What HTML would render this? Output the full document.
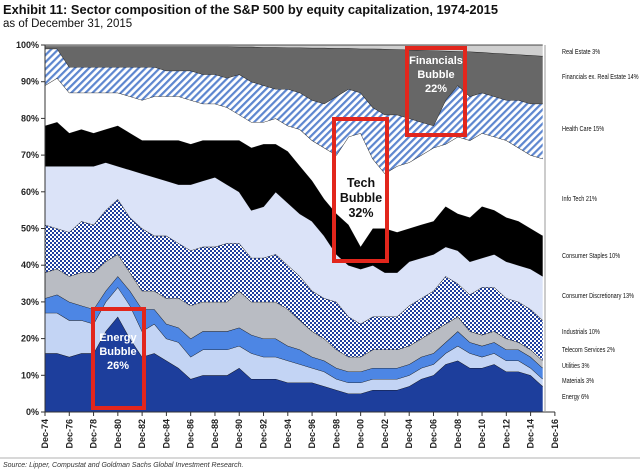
<!DOCTYPE html>
<html><head><meta charset="utf-8"><style>
html,body{margin:0;padding:0;background:#fff;}
svg{display:block;font-family:"Liberation Sans",sans-serif;}
</style></head><body>
<svg id="chart" width="640" height="470" viewBox="0 0 640 470" xmlns="http://www.w3.org/2000/svg">
<defs>
<pattern id="hatch" patternUnits="userSpaceOnUse" width="5" height="5" patternTransform="rotate(45)">
<rect width="5" height="5" fill="#fff"/><rect width="2.2" height="5" fill="#5d86cf"/>
</pattern>
<pattern id="checker" patternUnits="userSpaceOnUse" width="4" height="4">
<rect width="4" height="4" fill="#fff"/><rect width="2" height="2" fill="#1f3f9e"/><rect x="2" y="2" width="2" height="2" fill="#1f3f9e"/>
</pattern>
</defs>
<text x="3" y="14" font-size="13" font-weight="bold" fill="#111" textLength="495" lengthAdjust="spacingAndGlyphs">Exhibit 11: Sector composition of the S&amp;P 500 by equity capitalization, 1974-2015</text>
<text x="3" y="27" font-size="11.5" fill="#111">as of December 31, 2015</text>
<g id="areas"></g>
<g id="axes"></g>
<g id="legend"></g>
<g>
<rect x="93" y="309" width="51" height="99" fill="none" stroke="#e2261c" stroke-width="4"/>
<text x="118" y="341" font-size="11" font-weight="bold" fill="#fff" text-anchor="middle">Energy</text>
<text x="118" y="355" font-size="11" font-weight="bold" fill="#fff" text-anchor="middle">Bubble</text>
<text x="118" y="369" font-size="11" font-weight="bold" fill="#fff" text-anchor="middle">26%</text>
</g>
<g>
<rect x="334" y="119" width="53" height="142" fill="none" stroke="#e2261c" stroke-width="4"/>
<text x="361" y="187" font-size="12.5" font-weight="bold" fill="#111" text-anchor="middle">Tech</text>
<text x="361" y="202" font-size="12.5" font-weight="bold" fill="#111" text-anchor="middle">Bubble</text>
<text x="361" y="217" font-size="12.5" font-weight="bold" fill="#111" text-anchor="middle">32%</text>
</g>
<g>
<rect x="407" y="48" width="58" height="87" fill="none" stroke="#e2261c" stroke-width="4"/>
<text x="436" y="64" font-size="11" font-weight="bold" fill="#fff" text-anchor="middle">Financials</text>
<text x="436" y="78" font-size="11" font-weight="bold" fill="#fff" text-anchor="middle">Bubble</text>
<text x="436" y="92" font-size="11" font-weight="bold" fill="#fff" text-anchor="middle">22%</text>
</g>
<line x1="0" y1="458" x2="640" y2="458" stroke="#999" stroke-width="0.8"/>
<text x="3" y="467" font-size="7" font-style="italic" fill="#333">Source: Lipper, Compustat and Goldman Sachs Global Investment Research.</text>
</svg>
<script>
const years = [1974,1975,1976,1977,1978,1979,1980,1981,1982,1983,1984,1985,1986,1987,1988,1989,1990,1991,1992,1993,1994,1995,1996,1997,1998,1999,2000,2001,2002,2003,2004,2005,2006,2007,2008,2009,2010,2011,2012,2013,2014,2015];
// cumulative top of each sector band (%), stacked from the bottom
const energyTop = [16,16,15,16,16,22,26,20,15,16,14,12,9,10,10,10,12,9,9,9,8,8,8,7,6,5,5,6,6,6,7,9,10,13,14,12,12,13,11,11,10,7];
const materialsTop = [27,27,25,25,24,30,34,29,22,24,20,19,15,17,17,17,18,16,15,15,14,13,12,11,9,8,8,9,9,9,10,12,13,16,18,16,15,16,14,14,12,9];
const utilitiesTop = [31,32,30,29,28,33,37,33,28,28,24,23,20,22,22,22,23,21,20,20,18,17,15,14,12,11,11,12,12,12,13,15,16,19,22,19,18,19,17,17,15,12];
const telecomTop = [38,39,37,38,38,41,43,38,33,33,31,31,29,30,30,30,33,30,30,30,28,25,22,20,17,15,15,17,17,17,18,20,22,24,26,22,21,22,20,19,17,14];
const industrialsTop = [51,50,49,52,51,55,58,53,50,48,48,46,44,45,45,46,46,42,42,43,40,37,33,31,30,26,24,26,26,26,29,31,33,37,35,32,34,34,31,30,28,25];
const consDiscTop = [67,67,67,67,67,68,67,66,65,64,63,62,62,63,64,62,60,55,56,60,57,54,52,48,43,40,39,40,38,38,41,42,43,45,44,41,42,43,41,40,39,37];
const consStaplesTop = [78,79,76,77,76,77,78,76,74,74,74,74,73,74,74,74,74,72,73,73,71,67,63,58,54,51,45,50,50,49,50,51,52,56,54,53,56,55,53,52,50,48];
const infoTechTop = [89,91,87,87,87,87,87,86,85,86,86,86,85,84,84,83,81,79,79,80,78,77,74,72,70,75,76,69,65,67,68,70,72,73,75,74,76,75,74,72,70,69];
const healthCareTop = [99,99,94,94,94,94,94,94,94,94,93,93,93,92,92,91,92,90,89,88,88,87,85,84,86,88,87,83,81,81,80,79,78,85,89,86,87,86,85,85,84,84];
const financialsTop = [99.6,99.6,99.6,99.6,99.6,99.6,99.6,99.6,99.6,99.6,99.6,99.6,99.6,99.6,99.6,99.6,99.5,99.5,99.4,99.4,99.3,99.3,99.2,99.2,99.1,99.1,99,99,98.9,98.8,98.7,98.6,98.5,98.4,98.3,98.2,98,97.8,97.6,97.4,97.2,97];
const realEstateTop = years.map(() => 100);
const yTicks = [0,10,20,30,40,50,60,70,80,90,100];
const xTickYears = [1974,1976,1978,1980,1982,1984,1986,1988,1990,1992,1994,1996,1998,2000,2002,2004,2006,2008,2010,2012,2014,2016];
const legendLabels = ["Real Estate 3%","Financials ex. Real Estate 14%","Health Care 15%","Info Tech 21%","Consumer Staples 10%","Consumer Discretionary 13%","Industrials 10%","Telecom Services 2%","Utilities 3%","Materials 3%","Energy 6%"];

const NS = "http://www.w3.org/2000/svg";
const X0 = 45, PX_PER_YEAR = 12.14, Y0 = 412, PX_PER_PCT = 3.67;
function xScale(yr){ return X0 + (yr - 1974) * PX_PER_YEAR; }
function yScale(p){ return Y0 - p * PX_PER_PCT; }

const series = [
  {name:"energy", top:energyTop, fill:"#1d3e9c"},
  {name:"materials", top:materialsTop, fill:"#c3d4f4"},
  {name:"utilities", top:utilitiesTop, fill:"#4d86e4"},
  {name:"telecom", top:telecomTop, fill:"#b9bcc3"},
  {name:"industrials", top:industrialsTop, fill:"url(#checker)"},
  {name:"consumer-discretionary", top:consDiscTop, fill:"#dbe3f8"},
  {name:"consumer-staples", top:consStaplesTop, fill:"#000"},
  {name:"info-tech", top:infoTechTop, fill:"#fff"},
  {name:"health-care", top:healthCareTop, fill:"url(#hatch)"},
  {name:"financials", top:financialsTop, fill:"#676767"},
  {name:"real-estate", top:realEstateTop, fill:"#cfcfcf"}
];
const areas = document.getElementById("areas");
let prev = years.map(() => 0);
series.forEach(s => {
  const upper = years.map((yr,i) => xScale(yr).toFixed(1) + "," + yScale(s.top[i]).toFixed(1));
  const lower = years.map((yr,i) => xScale(yr).toFixed(1) + "," + yScale(prev[i]).toFixed(1)).reverse();
  const poly = document.createElementNS(NS, "polygon");
  poly.setAttribute("points", upper.concat(lower).join(" "));
  poly.setAttribute("fill", s.fill);
  
  
  areas.appendChild(poly);
  const line = document.createElementNS(NS, "polyline");
  line.setAttribute("points", upper.join(" "));
  line.setAttribute("fill", "none");
  line.setAttribute("stroke", "#111");
  line.setAttribute("stroke-width", "0.8");
  
  
  areas.appendChild(line);
  prev = s.top;
});

const axes = document.getElementById("axes");
function mk(tag, attrs){ const e = document.createElementNS(NS, tag); for (const k in attrs) e.setAttribute(k, attrs[k]); return e; }
const yAxis = mk("line", {x1:X0, y1:yScale(100), x2:X0, y2:Y0, stroke:"#333", "stroke-width":1});


axes.appendChild(yAxis);
const xAxis = mk("line", {x1:X0, y1:Y0, x2:555, y2:Y0, stroke:"#333", "stroke-width":1});


axes.appendChild(xAxis);
const rightBorder = mk("line", {x1:545, y1:yScale(100), x2:545, y2:Y0, stroke:"#999", "stroke-width":1});


axes.appendChild(rightBorder);
yTicks.forEach(t => {
  const tk = mk("line", {x1:X0-4, y1:yScale(t), x2:X0, y2:yScale(t), stroke:"#333"});
  
  
  axes.appendChild(tk);
  const lb = mk("text", {x:X0-6, y:yScale(t)+3, "font-size":9, "font-weight":"bold", "text-anchor":"end", fill:"#222"});
  lb.textContent = t + "%";
  
  
  axes.appendChild(lb);
});
xTickYears.forEach(yr => {
  const x = xScale(yr);
  const tk = mk("line", {x1:x, y1:Y0, x2:x, y2:Y0+4, stroke:"#333"});
  
  
  axes.appendChild(tk);
  const lb = mk("text", {x:0, y:0, "font-size":9, "font-weight":"bold", "text-anchor":"end", fill:"#222", transform:"translate(" + (x+3) + "," + (Y0+7) + ") rotate(-90)"});
  lb.textContent = "Dec-" + String(yr).slice(2);
  
  
  axes.appendChild(lb);
});

const legendY = [54,79,131,201,258,298,334,352,368,383,399];
const legend = document.getElementById("legend");
legendLabels.forEach((txt, i) => {
  const t = mk("text", {x:0, y:0, "font-size":7.5, fill:"#111", transform:"translate(562," + legendY[i] + ") scale(0.74,1)"});
  t.textContent = txt;
  
  
  legend.appendChild(t);
});
</script>
</body></html>
